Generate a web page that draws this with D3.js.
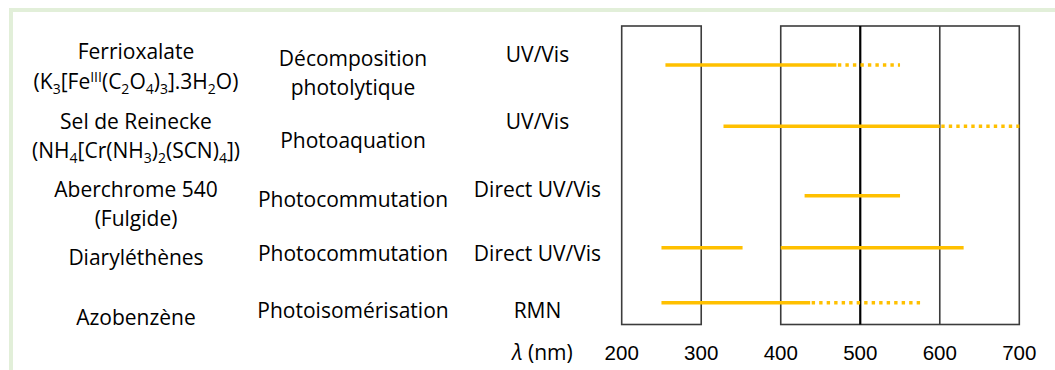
<!DOCTYPE html>
<html>
<head>
<meta charset="utf-8">
<script src="https://cdn.jsdelivr.net/npm/d3@7"></script>
<style>
  html, body { margin: 0; padding: 0; background: #fff; }
  svg { display: block; }
  .lbl { font-family: "Open Sans", sans-serif; font-size: 21px; fill: #000; }
  .tick { font-family: "Liberation Sans", Arial, sans-serif; font-size: 20.5px; fill: #000; }
</style>
</head>
<body>
<svg id="chart" width="1055" height="370"></svg>
<script>
// ---- data ----
const compounds = ["Ferrioxalate", "Sel de Reinecke", "Aberchrome 540", "Diaryléthènes", "Azobenzène"];
// {_x} = subscript, {^x} = superscript
const compoundLabels = [
  ["Ferrioxalate", "(K{_3}[Fe{^III}(C{_2}O{_4}){_3}].3H{_2}O)"],
  ["Sel de Reinecke", "(NH{_4}[Cr(NH{_3}){_2}(SCN){_4}])"],
  ["Aberchrome 540", "(Fulgide)"],
  ["Diaryléthènes"],
  ["Azobenzène"]
];
const processes = [
  ["Décomposition", "photolytique"],
  ["Photoaquation"],
  ["Photocommutation"],
  ["Photocommutation"],
  ["Photoisomérisation"]
];
const techniques = ["UV/Vis", "UV/Vis", "Direct UV/Vis", "Direct UV/Vis", "RMN"];
// wavelength ranges (nm): solid = usable range, dotted = extended range
const solidRanges = [
  [[255, 470]],
  [[328, 600]],
  [[430, 550]],
  [[250, 352], [400, 630]],
  [[250, 437]]
];
const dottedRanges = [[470, 550], [600, 700], null, null, [437, 578]];
const boxes = [[200, 300], [400, 700]];
const dividers = [500, 600];
const tickValues = [200, 300, 400, 500, 600, 700];
const axisTitle = "(nm)";

// ---- layout ----
const rowLineY = [65, 126.3, 195.7, 247.7, 302.7];
const nameBaselines = [[58.5, 89], [129, 157.5], [197, 226], [265], [325]];
const processBaselines = [[66, 95], [148], [207], [261], [318]];
const techBaselines = [61.5, 129, 197, 260.5, 317.5];
const colX = { name: 136, process: 353, tech: 537.5, title: 542.5 };
const plotTop = 26, plotBottom = 324.5, tickBaseline = 360;

const svg = d3.select("#chart");

const x = d3.scaleLinear().domain([200, 700]).range([621.7, 1019.3]);
const rowY = d3.scaleOrdinal().domain(compounds).range(rowLineY);

// pale green frame (top and left edges)
svg.append("rect").attr("x", 9).attr("y", 8).attr("width", 1046).attr("height", 4).attr("fill", "#e2efd9");
svg.append("rect").attr("x", 9).attr("y", 8).attr("width", 4).attr("height", 362).attr("fill", "#e2efd9");

// writes a label with sub/superscripts into a text element
function richText(sel, str) {
  const re = /\{([_^])([^}]*)\}/g;
  let last = 0, m, shift = 0;
  const parts = [];
  while ((m = re.exec(str)) !== null) {
    if (m.index > last) parts.push({ t: str.slice(last, m.index), k: "" });
    parts.push({ t: m[2], k: m[1] });
    last = re.lastIndex;
  }
  if (last < str.length) parts.push({ t: str.slice(last), k: "" });
  parts.forEach(p => {
    const target = p.k === "_" ? 5 : p.k === "^" ? -7 : 0;
    const ts = sel.append("tspan").text(p.t).attr("dy", target - shift);
    if (p.k) ts.attr("font-size", "14px");
    shift = target;
  });
}

// left text columns
compounds.forEach((c, i) => {
  compoundLabels[i].forEach((line, j) => {
    const t = svg.append("text").attr("class", "lbl")
      .attr("x", colX.name).attr("y", nameBaselines[i][j]).attr("text-anchor", "middle");
    richText(t, line);
  });
  processes[i].forEach((line, j) => {
    svg.append("text").attr("class", "lbl")
      .attr("x", colX.process).attr("y", processBaselines[i][j]).attr("text-anchor", "middle").text(line);
  });
  svg.append("text").attr("class", "lbl")
    .attr("x", colX.tech).attr("y", techBaselines[i]).attr("text-anchor", "middle").text(techniques[i]);
});

// wavelength frames
const frame = svg.append("g").attr("fill", "none");
boxes.forEach(b => {
  frame.append("rect")
    .attr("x", x(b[0])).attr("y", plotTop)
    .attr("width", x(b[1]) - x(b[0])).attr("height", plotBottom - plotTop)
    .attr("stroke", "#3c3c3c").attr("stroke-width", 1.6);
});
dividers.forEach((d, i) => {
  frame.append("line")
    .attr("x1", x(d)).attr("x2", x(d)).attr("y1", plotTop).attr("y2", plotBottom)
    .attr("stroke", i === 0 ? "#000" : "#3c3c3c").attr("stroke-width", i === 0 ? 2.2 : 1.6);
});

// ranges
const ranges = svg.append("g").attr("stroke", "#ffc000").attr("stroke-width", 3.5);
compounds.forEach((c, i) => {
  solidRanges[i].forEach(r => {
    ranges.append("line").attr("x1", x(r[0])).attr("x2", x(r[1]))
      .attr("y1", rowY(c)).attr("y2", rowY(c));
  });
  const d = dottedRanges[i];
  if (d) {
    ranges.append("line").attr("x1", x(d[0]) + 1.5).attr("x2", x(d[1]))
      .attr("y1", rowY(c)).attr("y2", rowY(c))
      .attr("stroke-dasharray", "3.4,4.1");
  }
});

// wavelength axis labels
svg.append("g").selectAll("text").data(tickValues).join("text")
  .attr("class", "tick").attr("x", d => x(d)).attr("y", tickBaseline)
  .attr("text-anchor", "middle").text(d => d);

const title = svg.append("text").attr("class", "lbl")
  .attr("x", colX.title).attr("y", tickBaseline).attr("text-anchor", "middle");
title.append("tspan").attr("font-style", "italic").text("λ");
title.append("tspan").text(" " + axisTitle);
</script>
</body>
</html>
